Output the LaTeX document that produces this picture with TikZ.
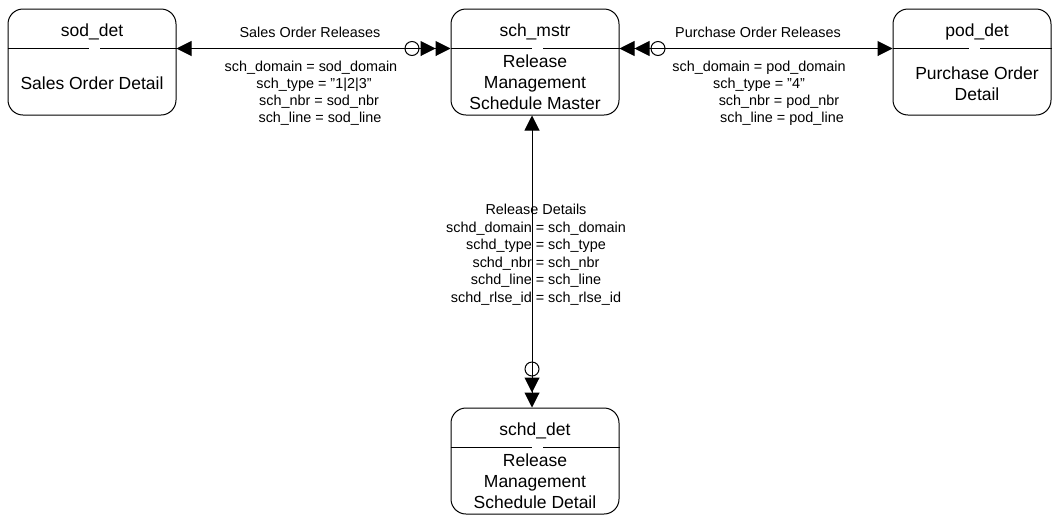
\documentclass[tikz,border=0pt]{standalone}
\usepackage{fontspec}
\setmainfont{Liberation Sans}
\usepackage{tikz}
\usetikzlibrary{arrows.meta, positioning, calc}

\newcommand{\boxfont}{\fontsize{8.75}{10.5}\selectfont}
\newcommand{\relfont}{\fontsize{7.2}{8.5}\selectfont}

\tikzset{
  entity/.style={draw, line width=0.5pt, rounded corners=7.5pt, minimum width=84pt, minimum height=53pt, inner sep=0pt},
  entname/.style={font=\boxfont, inner sep=0pt},
  entbody/.style={font=\boxfont, align=center, inner sep=0pt},
  rellabel/.style={font=\relfont, align=center, inner sep=0pt},
  rel/.style={line width=0.5pt,
    arrows={Triangle[length=7.5pt, width=7.5pt]}-{Circle[open, length=7.5pt, sep=0.5pt] Triangle[length=7.5pt, width=7.5pt] Triangle[length=7.5pt, width=7.5pt]}},
}

\begin{document}
\begin{tikzpicture}[x=0.5pt, y=-0.5pt]
  \useasboundingbox (0,0) rectangle (1053,515);
  % Tables
  \node[entity] (sod) at (92,62) {};
  \node[entity] (mstr) at (535,62) {};
  \node[entity, minimum width=79pt] (pod) at (972,62) {};
  \node[entity] (schd) at (535,461) {};
  % Table names and descriptions
  \node[entname] (sodname) at ($(sod.north)+(0,23)$) {sod\_det};
  \node[entbody] (sodtext) at ($(sod.north)+(0,75)$) {Sales Order Detail};
  \node[entname] (mstrname) at ($(mstr.north)+(0,23)$) {sch\_mstr};
  \node[entbody] (mstrtext) at ($(mstr.north)+(0,74)$) {Release\\Management\\Schedule Master};
  \node[entname] (podname) at ($(pod.north)+(5,23)$) {pod\_det};
  \node[entbody] (podtext) at ($(pod.north)+(5,75)$) {Purchase Order\\Detail};
  \node[entname] (schdname) at ($(schd.north)+(0,23)$) {schd\_det};
  \node[entbody] (schdtext) at ($(schd.north)+(0,74)$) {Release\\Management\\Schedule Detail};
  % Dividers, broken in the middle
  \foreach \e in {sod, mstr, pod, schd} {
    \draw[line width=0.5pt] ($(\e.north west)+(0,40)$) -- ($(\e.north)+(-3,40)$);
    \draw[line width=0.5pt] ($(\e.north)+(8,40)$) -- ($(\e.north east)+(0,40)$);
  }
  % Relationships
  \coordinate (vx) at (532,0);
  \draw[rel] ($(sod.north east)+(0,40)$) -- ($(mstr.north west)+(0,40)$);
  \draw[rel] ($(pod.north west)+(0,40)$) -- ($(mstr.north east)+(0,40)$);
  \draw[rel] (mstr.south -| vx) -- (schd.north -| vx);
  % Join labels
  \node[rellabel] (salesname) at (310,32) {Sales Order Releases};
  \node[rellabel] (saleskeys) at (311,93) {sch\_domain = sod\_domain\\
    \hspace*{3pt}sch\_type = "1|2|3"\\
    \hspace*{8pt}sch\_nbr = sod\_nbr\\
    \hspace*{9pt}sch\_line = sod\_line};
  \node[rellabel] (purchname) at (758,32) {Purchase Order Releases};
  \node[rellabel] (purchkeys) at (759,93) {sch\_domain = pod\_domain\\
    sch\_type = "4"\\
    \hspace*{20pt}sch\_nbr = pod\_nbr\\
    \hspace*{23pt}sch\_line = pod\_line};
  \node[rellabel] (detkeys) at (536,255) {\renewcommand{\arraystretch}{1.03}\begin{tabular}{@{}r@{}l@{}}
    \multicolumn{2}{@{}c@{}}{Release Details}\\
    schd\_domain & \ = sch\_domain\\
    schd\_type & \ = sch\_type\\
    schd\_nbr & \ = sch\_nbr\\
    schd\_line & \ = sch\_line\\
    schd\_rlse\_id & \ = sch\_rlse\_id
  \end{tabular}};
\end{tikzpicture}
\end{document}
